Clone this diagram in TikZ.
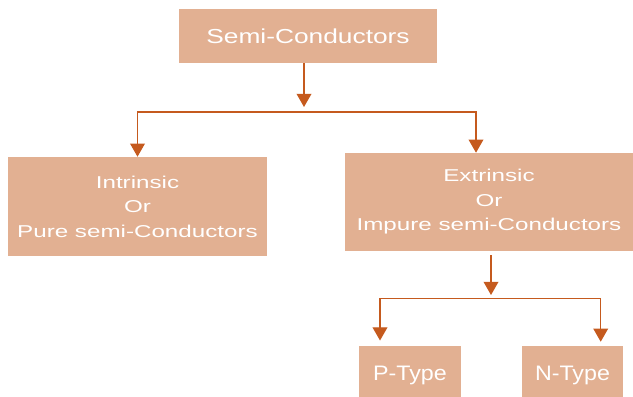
\documentclass[tikz,border=0pt]{standalone}
\usepackage{fontspec}
\setmainfont{Liberation Sans}
\newfontfamily\titlefont{Liberation Sans}[FakeStretch=1.30]
\newfontfamily\classfont{Liberation Sans}[FakeStretch=1.41]
\newfontfamily\typefont{Liberation Sans}[FakeStretch=1.11]
\usetikzlibrary{positioning, arrows.meta}
\definecolor{peach}{HTML}{E2B092}
\definecolor{rust}{HTML}{C55A1E}

\begin{document}
\begin{tikzpicture}[>={Triangle[width=0.37cm, length=0.33cm]},
  box/.style={fill=peach, text=white, align=center, inner sep=0pt},
  link/.style={draw=rust, line width=0.8pt}]
  \useasboundingbox (0,0) rectangle (15.825,9.9);
  % --- boxes ---
  \node[box, minimum width=6.45cm, minimum height=1.35cm,
        font=\titlefont\fontsize{14.4}{17}\selectfont] (semi) at (7.7,9.0) {Semi-Conductors};
  \node[box, minimum width=6.475cm, minimum height=2.475cm,
        font=\classfont\fontsize{12.2}{17.4}\selectfont] (intr) at (3.4375,4.7375)
       {Intrinsic\\Or\\Pure semi-Conductors};
  \node[box, minimum width=7.2cm, minimum height=2.45cm,
        font=\classfont\fontsize{12.2}{17.4}\selectfont] (extr) at (12.225,4.85)
       {Extrinsic\\Or\\Impure semi-Conductors};
  \node[box, minimum width=2.55cm, minimum height=1.45cm,
        font=\typefont\fontsize{14.9}{17}\selectfont] (ptype) at (10.25,0.525) {P-Type};
  \node[box, minimum width=2.54cm, minimum height=1.45cm,
        font=\typefont\fontsize{14.9}{17}\selectfont] (ntype) at (14.3125,0.525) {N-Type};
  % --- first split ---
  \coordinate (fork1) at (7.6,7.1);
  \draw[link, ->] (semi.south -| fork1) -- ([yshift=0.125cm]fork1);
  \draw[link, ->] (fork1) -| (intr.north);
  \draw[link, ->] (fork1) -| ([xshift=-0.325cm]extr.north);
  % --- second split ---
  \coordinate (fork2) at (12.275,2.4425);
  \draw[link, ->, shorten <=0.1cm] (extr.south -| fork2) -- ([yshift=0.0825cm]fork2);
  \draw[link, ->, shorten >=0.13cm] (fork2) -| ([xshift=-0.75cm]ptype.north);
  \draw[link, ->, shorten >=0.1cm] (fork2) -| ([xshift=0.705cm]ntype.north);
\end{tikzpicture}
\end{document}
